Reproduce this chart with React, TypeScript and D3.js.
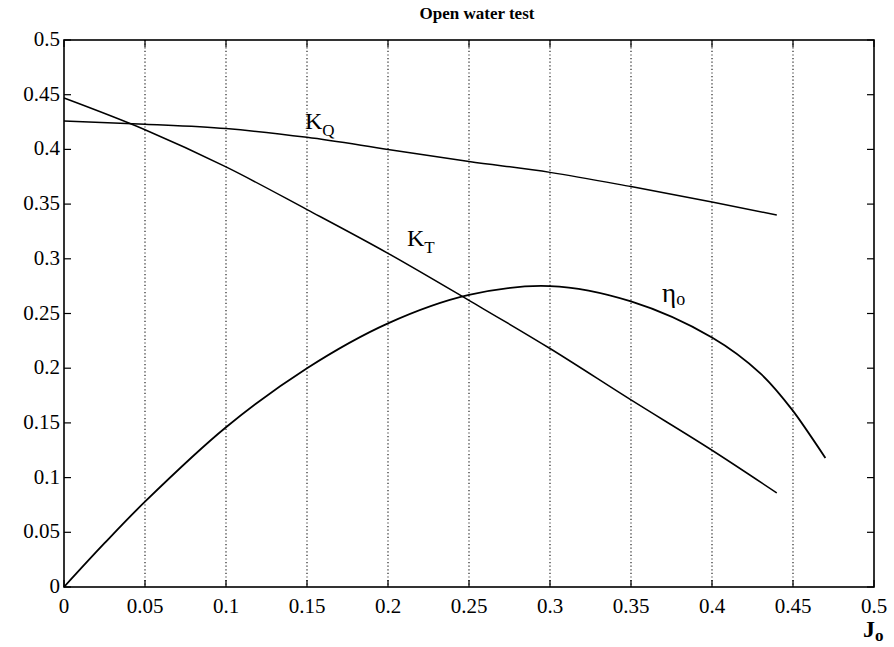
import React from "react";
import * as d3 from "d3";

const J = [0, 0.05, 0.1, 0.15, 0.2, 0.25, 0.3, 0.35, 0.4, 0.44];
const KT = [0.447, 0.418, 0.384, 0.345, 0.305, 0.262, 0.218, 0.171, 0.125, 0.086];
const KQ = [0.426, 0.423, 0.419, 0.411, 0.4, 0.389, 0.379, 0.366, 0.352, 0.34];
const J_ETA = [0, 0.025, 0.05, 0.1, 0.15, 0.2, 0.25, 0.3, 0.35, 0.4, 0.43, 0.45, 0.47];
const ETA = [0, 0.04, 0.078, 0.146, 0.2, 0.241, 0.267, 0.275, 0.261, 0.228, 0.195, 0.161, 0.118];
const X_TICKS = [0, 0.05, 0.1, 0.15, 0.2, 0.25, 0.3, 0.35, 0.4, 0.45, 0.5];
const Y_TICKS = [0, 0.05, 0.1, 0.15, 0.2, 0.25, 0.3, 0.35, 0.4, 0.45, 0.5];

const W = 894;
const H = 647;
const M = { left: 64, right: 874, top: 40, bottom: 587 };
const FONT = "Liberation Serif";

export default function App() {
  const x = d3.scaleLinear().domain([0, 0.5]).range([M.left, M.right]);
  const y = d3.scaleLinear().domain([0, 0.5]).range([M.bottom, M.top]);

  const line = d3
    .line<[number, number]>()
    .x((d) => x(d[0]))
    .y((d) => y(d[1]))
    .curve(d3.curveMonotoneX);

  const smooth = d3
    .line<[number, number]>()
    .x((d) => x(d[0]))
    .y((d) => y(d[1]))
    .curve(d3.curveCatmullRom.alpha(0.5));

  const ktPath = line(J.map((j, i) => [j, KT[i]]))!;
  const kqPath = line(J.map((j, i) => [j, KQ[i]]))!;
  const etaPath = smooth(J_ETA.map((j, i) => [j, ETA[i]]))!;

  const fmt = (v: number) => (v === 0 ? "0" : String(+v.toFixed(2)));

  return (
    <svg width={W} height={H} fontFamily={FONT}
      style={{ position: "absolute", left: 0, top: 0, background: "#fff" }}>
      <rect x={0} y={0} width={W} height={H} fill="#fff" />
      {/* vertical dotted grid */}
      {X_TICKS.slice(1, -1).map((t) => (
        <line key={"g" + t} x1={x(t)} x2={x(t)} y1={M.top} y2={M.bottom}
          stroke="#222" strokeWidth={1.2} strokeDasharray="1.2,2.4" />
      ))}
      {/* tick marks and labels */}
      {X_TICKS.map((t) => (
        <g key={"xt" + t}>
          <line x1={x(t)} x2={x(t)} y1={M.bottom} y2={M.bottom - 7} stroke="#000" strokeWidth={1.2} />
          <line x1={x(t)} x2={x(t)} y1={M.top} y2={M.top + 7} stroke="#000" strokeWidth={1.2} />
          <text x={x(t)} y={613} textAnchor="middle" fontFamily={FONT} fontSize={21} fill="#000">
            {fmt(t)}
          </text>
        </g>
      ))}
      {Y_TICKS.map((t) => (
        <g key={"yt" + t}>
          <line x1={M.left} x2={M.left + 7} y1={y(t)} y2={y(t)} stroke="#000" strokeWidth={1.2} />
          <line x1={M.right} x2={M.right - 7} y1={y(t)} y2={y(t)} stroke="#000" strokeWidth={1.2} />
          <text x={M.left - 4} y={y(t) + 6} textAnchor="end" fontFamily={FONT} fontSize={21} fill="#000">
            {fmt(t)}
          </text>
        </g>
      ))}
      <rect x={M.left} y={M.top} width={M.right - M.left} height={M.bottom - M.top}
        fill="none" stroke="#000" strokeWidth={1.6} />
      {/* curves */}
      <path d={kqPath} fill="none" stroke="#000" strokeWidth={1.5} />
      <path d={ktPath} fill="none" stroke="#000" strokeWidth={1.5} />
      <path d={etaPath} fill="none" stroke="#000" strokeWidth={1.8} />
      {/* curve labels */}
      <text x={305} y={129} fontFamily={FONT} fontSize={24} fill="#000">
        K<tspan fontSize={17} dy={7}>Q</tspan>
      </text>
      <text x={407} y={246} fontFamily={FONT} fontSize={24} fill="#000">
        K<tspan fontSize={17} dy={7}>T</tspan>
      </text>
      <text x={662} y={302} fontFamily={FONT} fontSize={27} fill="#000">
        η<tspan fontSize={18} dy={3}>o</tspan>
      </text>
      <text x={863} y={637} fontFamily={FONT} fontSize={24} fontWeight="bold" fill="#000">
        J<tspan fontSize={17} dy={4}>o</tspan>
      </text>
      <text x={477} y={19} textAnchor="middle" fontFamily={FONT} fontSize={17} fontWeight="bold" fill="#000">
        Open water test
      </text>
    </svg>
  );
}
